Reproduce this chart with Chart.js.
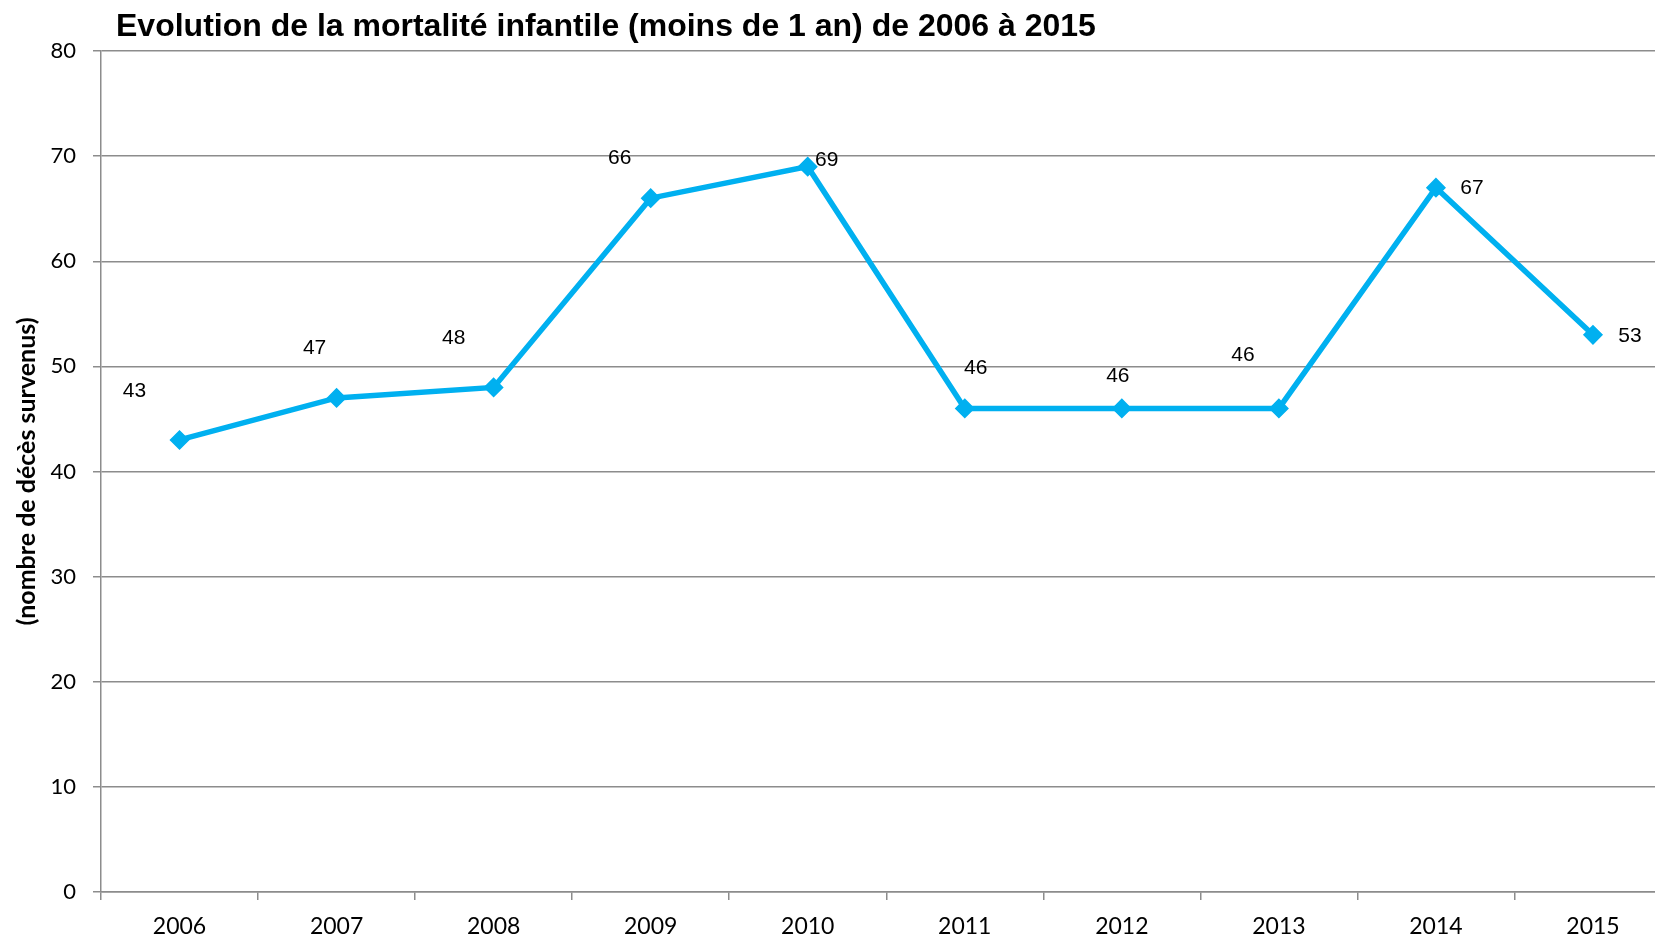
<!DOCTYPE html>
<html>
<head>
<meta charset="utf-8">
<script src="https://cdn.jsdelivr.net/npm/chart.js@4.4.1/dist/chart.umd.min.js"></script>
<style>
  html, body { margin: 0; padding: 0; overflow: hidden; background: #fff; }
  #wrap { width: 1682px; height: 939px; }
</style>
</head>
<body>
<div id="wrap"><canvas id="chart"></canvas></div>
<script>
const years = ['2006', '2007', '2008', '2009', '2010', '2011', '2012', '2013', '2014', '2015'];
const deaths = [43, 47, 48, 66, 69, 46, 46, 46, 67, 53];
const yTicks = [0, 10, 20, 30, 40, 50, 60, 70, 80];

// where each value label sits relative to its point (as placed in the original)
const labelOffsets = [[-45, -49], [-22, -50], [-40, -49], [-31, -40], [19, -6],
                      [11, -40], [-4, -32], [-36, -53], [36, 1], [37, 1]];

const titleText = 'Evolution de la mortalité infantile (moins de 1 an) de 2006 à 2015';
const gridGrey = '#8c8c8c';

const extras = {
  id: 'extras',
  afterDatasetsDraw(chart) {
    const ctx = chart.ctx;
    const meta = chart.getDatasetMeta(0);
    ctx.save();
    ctx.fillStyle = '#000';
    ctx.font = '21px "Liberation Sans", Arial, sans-serif';
    ctx.textAlign = 'center';
    ctx.textBaseline = 'middle';
    meta.data.forEach((pt, i) => {
      const off = labelOffsets[i];
      ctx.fillText(String(deaths[i]), pt.x + off[0], pt.y + off[1]);
    });
    ctx.font = 'bold 32px "Liberation Sans", Arial, sans-serif';
    ctx.textAlign = 'left';
    ctx.fillText(titleText, 116, 27);
    ctx.restore();
  }
};

new Chart(document.getElementById('chart'), {
  type: 'line',
  data: {
    labels: years,
    datasets: [{
      data: deaths,
      borderColor: '#00b0f0',
      backgroundColor: '#00b0f0',
      borderWidth: 5.5,
      pointStyle: 'rectRot',
      pointRadius: 9,
      pointBorderWidth: 1.5,
      tension: 0
    }]
  },
  options: {
    responsive: true,
    maintainAspectRatio: false,
    animation: false,
    layout: { padding: { top: 51, right: 2, left: 0, bottom: 0 } },
    plugins: {
      legend: { display: false },
      tooltip: { enabled: false }
    },
    scales: {
      x: {
        offset: true,
        grid: {
          offset: true,
          drawOnChartArea: false,
          drawTicks: true,
          tickLength: 8,
          color: gridGrey,
          lineWidth: 1.5
        },
        border: { color: gridGrey, width: 1.5 },
        ticks: {
          color: '#000',
          padding: 13,
          maxRotation: 0,
          font: { family: 'Lato', size: 23 }
        },
        afterFit(scale) { scale.height = 47; }
      },
      y: {
        min: 0,
        max: 80,
        afterBuildTicks(scale) { scale.ticks = yTicks.map(v => ({ value: v })); },
        grid: {
          color: gridGrey,
          lineWidth: 1.5,
          tickLength: 8
        },
        border: { color: gridGrey, width: 1.5 },
        ticks: {
          color: '#000',
          padding: 17,
          font: { family: 'Lato', size: 22 }
        },
        title: {
          display: true,
          text: '(nombre de décès survenus)',
          color: '#000',
          font: { family: 'Lato', size: 25, weight: 'bold' },
          padding: { top: 12, bottom: 0 }
        },
        afterFit(scale) { scale.width = 101; }
      }
    }
  },
  plugins: [extras]
});
</script>
</body>
</html>
